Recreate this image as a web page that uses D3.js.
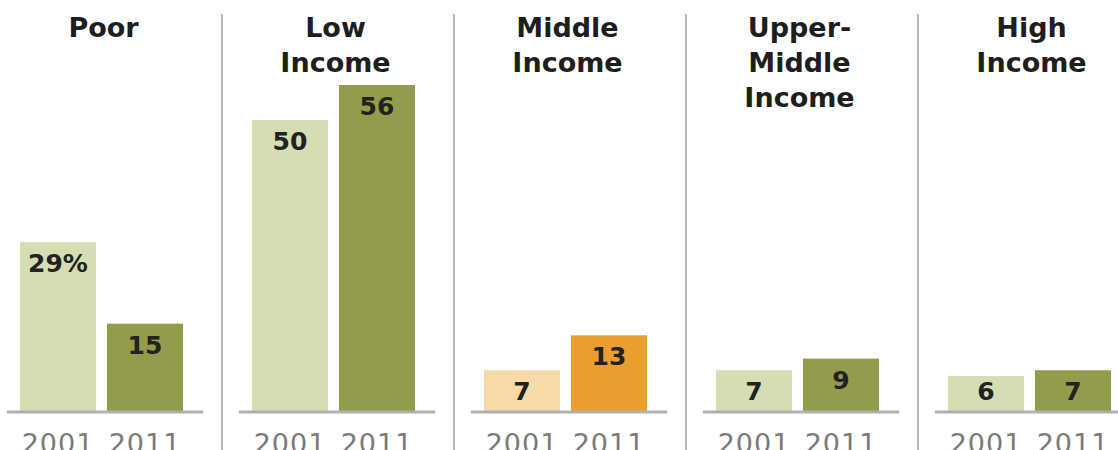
<!DOCTYPE html>
<meta charset="utf-8">
<style>
    body { margin: 0; background: #fff; }
    .title { font: bold 27px "DejaVu Sans", sans-serif; fill: #1e1e1e; text-anchor: middle; }
    .value { font: bold 25px "DejaVu Sans", sans-serif; fill: #222; text-anchor: middle; }
    .year { font: 27px "DejaVu Sans", sans-serif; fill: #7a7a7a; text-anchor: middle; letter-spacing: 1px; }
    .sep { stroke: #bdbdbd; stroke-width: 2px; }
    .base { stroke: #b0b0b0; stroke-width: 3px; }
</style>
<body>
<script src="https://d3js.org/d3.v7.min.js"></script>
<script>

const categories = ["Poor", "Low Income", "Middle Income", "Upper-Middle Income", "High Income"];
const titleLines = [["Poor"], ["Low", "Income"], ["Middle", "Income"], ["Upper-", "Middle", "Income"], ["High", "Income"]];
const years = ["2001", "2011"];
const values2001 = [29, 50, 7, 7, 6];
const values2011 = [15, 56, 13, 9, 7];

// light / dark colour per group (middle income is orange)
const lightColors = ["#d5ddb2", "#d5ddb2", "#f8d9a8", "#d5ddb2", "#d5ddb2"];
const darkColors = ["#939c4b", "#939c4b", "#ea9e30", "#939c4b", "#939c4b"];

const width = 1118;
const height = 450;
const baseY = 411;

const svg = d3.select("body").append("svg")
    .attr("width", width)
    .attr("height", height);

// each panel's bar group starts at band start
const x = d3.scaleBand()
    .domain(categories)
    .range([20, 20 + 232 * 5]);

const xi = d3.scaleBand()
    .domain(years)
    .range([0, 163])
    .paddingInner(0.126);

const y = d3.scaleLinear()
    .domain([0, 56])
    .range([baseY, 85]);

const rows = categories.map((c, i) => ({
    cat: c,
    lines: titleLines[i],
    bars: [
        { year: years[0], v: values2001[i], color: lightColors[i] },
        { year: years[1], v: values2011[i], color: darkColors[i] }
    ]
}));

const panel = svg.selectAll(".panel")
    .data(rows)
    .enter().append("g")
    .attr("class", "panel")
    .attr("transform", d => `translate(${x(d.cat)},0)`);

// separators between panels
panel.filter((d, i) => i > 0).append("line")
    .attr("class", "sep")
    .attr("x1", -30).attr("x2", -30)
    .attr("y1", 14).attr("y2", height);

// titles
panel.append("text")
    .attr("class", "title")
    .selectAll("tspan")
    .data(d => d.lines)
    .enter().append("tspan")
    .attr("x", 163 / 2 + 2)
    .attr("y", (d, i) => 37 + i * 35)
    .text(d => d);

// bars
panel.selectAll("rect")
    .data(d => d.bars)
    .enter().append("rect")
    .attr("x", d => xi(d.year))
    .attr("width", xi.bandwidth())
    .attr("y", d => y(d.v))
    .attr("height", d => baseY - y(d.v))
    .attr("fill", d => d.color);

// value labels
panel.selectAll(".value")
    .data((d, i) => d.bars.map((b, j) => ({ b, first: i === 0 && j === 0 })))
    .enter().append("text")
    .attr("class", "value")
    .attr("x", d => xi(d.b.year) + xi.bandwidth() / 2)
    .attr("y", d => Math.min(y(d.b.v) + 30, 400))
    .text(d => d.first ? d.b.v + "%" : d.b.v);

// baseline
panel.append("line")
    .attr("class", "base")
    .attr("x1", -13).attr("x2", 163 + 20)
    .attr("y1", baseY + 1).attr("y2", baseY + 1);

// year labels
panel.selectAll(".year")
    .data(d => d.bars)
    .enter().append("text")
    .attr("class", "year")
    .attr("x", d => xi(d.year) + xi.bandwidth() / 2)
    .attr("y", 453)
    .text(d => d.year);

</script>
</body>
</html>
